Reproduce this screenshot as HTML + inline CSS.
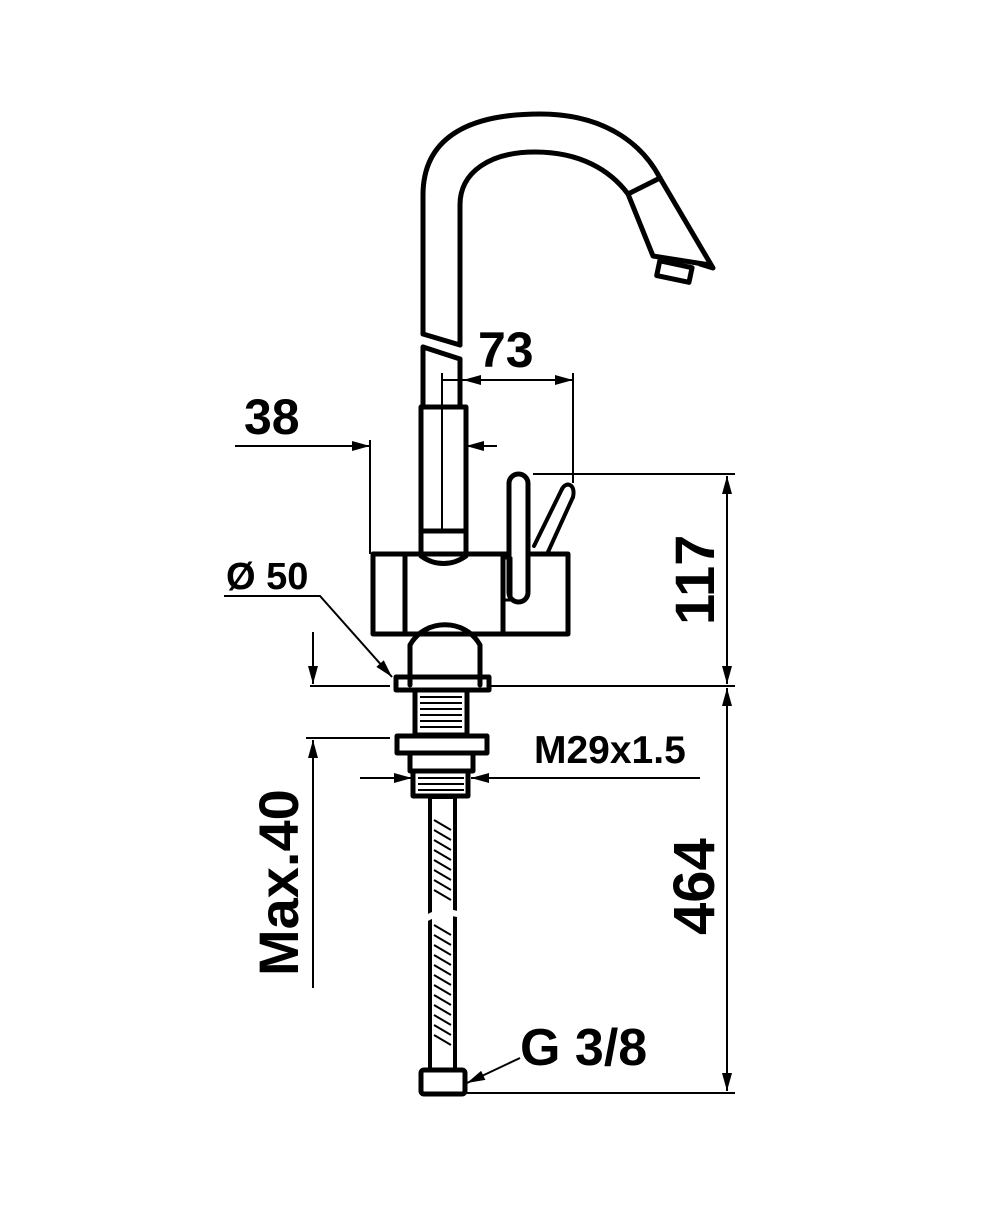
<!DOCTYPE html>
<html><head><meta charset="utf-8"><style>
html,body{margin:0;padding:0;background:#fff;}
svg{display:block;}
text{font-family:"Liberation Sans Narrow","Liberation Sans",sans-serif;font-weight:bold;fill:#000;}
</style></head><body>
<svg width="1000" height="1208" viewBox="0 0 1000 1208" xmlns="http://www.w3.org/2000/svg">
<defs>
<marker id="a" markerWidth="18" markerHeight="10" refX="18" refY="5" orient="auto" markerUnits="userSpaceOnUse" viewBox="0 0 18 10"><path d="M0,0 L18,5 L0,10 z" fill="#000"/></marker>
</defs>
<g fill="none" stroke="#000" stroke-width="5" stroke-linejoin="round" stroke-linecap="round">
<path d="M423,334 L423,195 C423,140 465,114 540,114 C600,114 640,140 660,178 L713,268 L700,264"/>
<path d="M460,345 L460,205 C460,172 490,152 535,152 C580,152 610,170 628,194 L653,256 L710,265"/>
<path d="M628,194 L660,178"/>
<rect x="658" y="264" width="33" height="15" transform="rotate(12 674 271)"/>
<path d="M423,334 L460,345 M423,347 L460,359"/>
<path d="M423,347 L423,407 M460,359 L460,407"/>
<rect x="421" y="407" width="45" height="147"/>
<path d="M421,531 L466,531"/>
<rect x="373" y="554" width="195" height="80"/>
<path d="M405,554 L405,634 M503,554 L503,634"/>
<path d="M421,556 C435,566 452,566 466,556"/>
<path d="M410,685 L410,645 C425,618 465,618 480,645 L480,685"/>
<rect x="509" y="474" width="19" height="128" rx="9.5" fill="#fff"/>
<rect x="504" y="558" width="7" height="42" stroke-width="3"/>
<path d="M534,546 L562,489 M548,552 L573,497" stroke-width="4"/>
<path d="M562,489 C566,481 576,484 573,497" stroke-width="4"/>
<rect x="396" y="677" width="93" height="13"/>
<rect x="415" y="690" width="52" height="45"/>
<rect x="397" y="736" width="90" height="17"/>
<rect x="410" y="753" width="63" height="18"/>
<rect x="413" y="771" width="55" height="25"/>
<rect x="430" y="797" width="25" height="273" stroke-width="4"/>
<rect x="421" y="1070" width="44" height="24" rx="3"/>
</g>
<g stroke="#000" stroke-width="2">
<path d="M420,697 H462 M420,703 H462 M420,709 H462 M420,715 H462 M420,721 H462 M420,727 H462 M418,778 H464 M418,784 H464 M418,790 H464"/>
<path d="M434,820 L451,830 M434,830 L451,840 M434,840 L451,850 M434,850 L451,860 M434,860 L451,870 M434,870 L451,880 M434,880 L451,890 M434,890 L451,900 M434,925 L451,935 M434,935 L451,945 M434,945 L451,955 M434,955 L451,965 M434,965 L451,975 M434,975 L451,985 M434,985 L451,995 M434,995 L451,1005 M434,1005 L451,1015 M434,1015 L451,1025 M434,1025 L451,1035 M434,1035 L451,1045"/>
</g>
<path d="M426,915 Q443,905 460,912 L460,918 Q443,912 426,922 z" fill="#fff"/>
<g fill="none" stroke="#000" stroke-width="2">
<path d="M442,373 L442,531"/>
<path d="M442,380 L573,380" marker-end="url(#a)"/>
<path d="M500,380 L463,380" marker-end="url(#a)"/>
<path d="M573,373 L573,483"/>
<path d="M235,446 L370,446" marker-end="url(#a)"/>
<path d="M497,446 L466,446" marker-end="url(#a)"/>
<path d="M370,440 L370,554"/>
<path d="M533,474 L735,474"/>
<path d="M727,580 L727,476" marker-end="url(#a)"/>
<path d="M727,580 L727,684" marker-end="url(#a)"/>
<path d="M490,686 L735,686"/>
<path d="M310,686 L390,686"/>
<path d="M727,890 L727,688" marker-end="url(#a)"/>
<path d="M727,890 L727,1091" marker-end="url(#a)"/>
<path d="M465,1093 L735,1093"/>
<path d="M313,632 L313,684" marker-end="url(#a)"/>
<path d="M306,738 L390,738"/>
<path d="M313,988 L313,740" marker-end="url(#a)"/>
<path d="M360,778 L412,778" marker-end="url(#a)"/>
<path d="M700,778 L471,778" marker-end="url(#a)"/>
<path d="M224,596 L320,596 L392,677" marker-end="url(#a)"/>
<path d="M520,1058 L467,1083" marker-end="url(#a)"/>
</g>
<text x="478" y="367" font-size="50">73</text>
<text x="244" y="434" font-size="50">38</text>
<text x="226" y="589" font-size="38">Ø 50</text>
<text x="534" y="763" font-size="39">M29x1.5</text>
<text x="520" y="1065" font-size="52">G 3/8</text>
<text transform="translate(714,625) rotate(-90)" font-size="56">117</text>
<text transform="translate(714,935) rotate(-90)" font-size="58">464</text>
<text transform="translate(298,976) rotate(-90)" font-size="56">Max.40</text>
</svg>
</body></html>
